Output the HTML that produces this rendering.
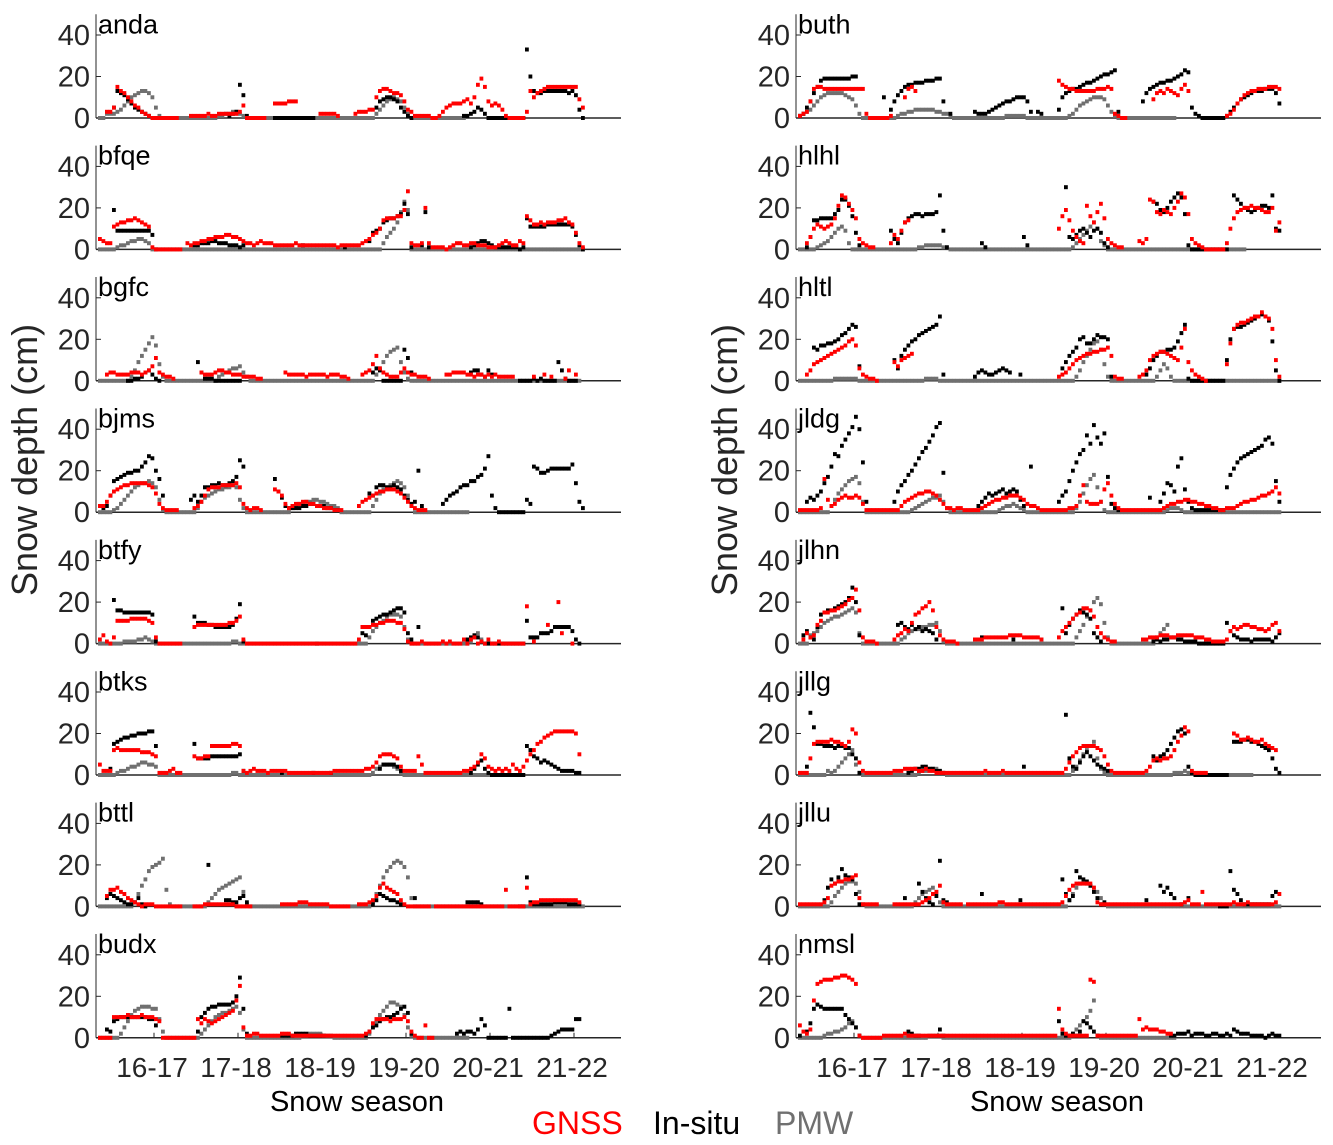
<!DOCTYPE html>
<html><head><meta charset="utf-8"><style>
html,body{margin:0;padding:0;background:#fff;}
svg{display:block;font-family:"Liberation Sans",Arial,sans-serif;}
</style></head><body>
<svg id="chart" width="1333" height="1145" viewBox="0 0 1333 1145" xmlns="http://www.w3.org/2000/svg">
<g id="axes"></g>
<g id="marks"></g>
<text x="37" y="460" font-size="36" fill="#262626" text-anchor="middle" transform="rotate(-90 37 460)">Snow depth (cm)</text>
<text x="737" y="460" font-size="36" fill="#262626" text-anchor="middle" transform="rotate(-90 737 460)">Snow depth (cm)</text>
<text x="357" y="1111" font-size="29" fill="#000" text-anchor="middle">Snow season</text>
<text x="1057" y="1111" font-size="29" fill="#000" text-anchor="middle">Snow season</text>
<text x="532" y="1134" font-size="32" fill="#ff0000">GNSS</text>
<text x="653" y="1134" font-size="32" fill="#000">In-situ</text>
<text x="775" y="1134" font-size="32" fill="#707070">PMW</text>
</svg>
<script>
// Data: each character is one ~15-day sample (cm). '.' = missing, 0-9a-z = 0..35, A-Z = 36..61
const seasons = ['16-17','17-18','18-19','19-20','20-21','21-22'];
const yTicks = [0,20,40];
const stationNames = ['anda','bfqe','bgfc','bjms','btfy','btks','bttl','budx','buth','hlhl','hltl','jldg','jlhn','jllg','jllu','nmsl'];
const gnss = [
"..335fdca86532100000000. ..1111121122222236000000 ..7777888......222221... .233344adeedccb843111110 01356777897agjf867641000 003dacdefffffffff95.....",
"5433bcddeefedcb100000000 .32334455666776654332343 332222223222222222221222 22234578aefffggjs3223k31 111012332233222111234322 43geccdcdddeefdc831.....",
"..34433334443457b43221.. .....433345544333222211. .....4333332333332333221 ...3458c643222464332221. ...33444433233232322222. ....2..3.2...15.3.......",
"3358abcddeeeeedc9421111. ...2358bcccddddec421221. ..ba842344554433222111.. ..356789aabbba97532111.. ........................ ........................",
"24103bbbbcccccba30000000 ...8999999999aabd2000000 000000000000000000000000 00288899aabbbaa710001000 001010002023010200100000 00i.1...9..k5..0........",
"5222cdccccccbbba91112311 ...98899eeeeeeffe2123222 122222111111111111122222 222233469aaa984222295111 1111111122346a8432323253 247acfgijkllllllka......",
"..5889764321011100000000 ...00011111111100000.... ....11111222111111000000 ..1112359b9876310000000. 000000000000000000008000 009122333333333332......",
"0000aaaabaaabaaa98000000 00009798789abcdip5112211 111122211111111111111111 111123799998999a83100600 ........................ ........................",
"1238effeeeeeeeeeeee20000 001...aefd.............. ........................ ..igfeeddddddeeefe2100.. .....9cdcedcbegd........ ..12479bcddeeefffe......",
"..36acbabcflqpmjf53211.. ..3759de................ ........................ ..agje9643lgdimf53211... .435onihjihknrph53210000 003afijkklkkjiik9d......",
"..3589abcdefghjkh632110. ...97abcd............... ........................ ..23468abcddeeffgc211... .235acdeedcbagp953210... ..8iprsstuvvxvupa2......",
"1111112g6346787787411111 111113567899aa9864221221 111123456677888764332111 111112238d54445be8421111 111111112344556655443322 112223455667889ac9......",
".25349bffgghijlmqg31110. ...24576aefhikg8421110.. ..22233333334444333332.. ..368acefhhgd853211..... ..2233344433444443332211 1126878998877679a6......",
"1118fgggghggfegmk6211111 111222333322322111111111 111112111121111111111111 1111369bdeeeedc952111111 11124787889cgjnl21111... ....kjhhihgghfedc.......",
"111111124abccddef411111. ...1111111123467a211111. 111111111221111111111111 111258abbbbb921111111111 111111111111112311171111 111121112111111126......",
"6324iqrsssttuutsq1000000 111111211111111111111111 111111111111111111111111 11e42111111sr11111111111 19454443322............. ........................"
];
const insitu = [
"....5dcb9754321000...... .............123gb1..... ..000000000000.......... .......589aa985310...... ........1123542000000000 00xkdccdddddddcdb40.....",
"....j999999999970....... ...223334433322212...... ..........2...........1. .....489adeffghmh1..2i1. ..........12344321111111 01fbbbbbcccccccb720.....",
"........0011245310...... ....9411100000000....... ........................ ......465000000fb4...... ..........4553253....... 00001010000951000.......",
"3238fghijjkkmorqkg8..... ..6858ccddeddefhpm...... ..ga73222233443332211... .....98cddccdcb8645k3... ..4689acddffhilr82000000 0064mljjkllllllne52.....",
"....lggffffffffe1....... ...daaa99888889cj1...... ..............0......... ...548bcdeefghhf52.8.... .........234310000000000 00b333555688888620......",
"...3fghiijjkkklle....... ...f888899999999a2...... ....1........1....1..... ........3555542......... ..........13573100000000 00ec98676543222211......",
"..465432112410.......... .......k....3322452..... ........................ ......136543321...4..... .........22221.......... 00e211111122221111......",
"..4389aaaaaaaa996....... ....3aceffgggghkte2..... ....1111222211111....... ....135689aabcefc2...... ......232332496000000e00 000000000123444499......",
"1258cfijjjjjjjjkk....... a.48bdfgghhhiiijj8.2.... ..322234567889aaa83.32.. ..4acdeefghhijkllmn3.... ..8cefghhiijklnm52100000 0013579abcdddeeec7......",
"..16eeffffhjoolg82...... ..9538dfghhghhhiq91..... ....31..........62...... ....u6579a869a831....... .....nmjiknprph200000000 000.qomkjijkllkqa9......",
"....gfhhiijkmnprq7...... ...a6cfhjkmnopqrv3...... ..24543345654..3........ ...69cegkliikmllk2...... ...36aceeffgjnr100000000 00akpqqrstuvwvtj50......",
"..5768aehmsrwzCFKEo5.... ...5adfiknqtvyBFHj...... ...357989ab9aba63.m3.... ..58afkosuBxGAxCh421.... ....7..59edamqb521111111 11ciloqrstuvwzAxf5......",
".46328efgghijkmrk4...... ....9a8797867652........ ....3........2.......2.. ...h59cegfec531......... .....1212233221111000000 00a643222122222135......",
"..4unffeeedeedda81...... .......12334433221...... ................4....... ....t84369b975432....... .....979acfilmk410000000 000.ggghhggfedc831......",
".......39dbeifed61...... ......4...b74215m32..... ....6..........3........ ...d635hedca7412........ ...3...a7964.1.4........ 000h8631111111157......",
"1.37egfeeeeeeb9751...... .......3211.....41...... ........................ ..821121387531.......... ..........11222312221122 112143222111101211......"
];
const pmw = [
"002223468abcddca51000000 000000000011223321000000 000000000000000000000000 000000024689a98520000000 000000000............... ........................",
"000001223445543000000000 000000000000000000000000 000000000000000000000000 000000000368adinj0000000 000000000000000000000000 0000000000000000000.....",
"000000000259cfilh8200000 000000000023456674200000 000000000000000000000000 0000000369cefg9410000000 000000000000000000000000 000000000000000000......",
"000012468acdeefec6100000 000025789abbccdc62000000 000000023445566554332000 000000369bcdefec84000000 0000000000.............. ........................",
"000000011112232100000000 000000000000001100000000 000000000000000000000000 00000368abdeeed820000000 00000000001352.......... ........................",
"00000122344566554 0000000 000000000000001100000000 000000000000000000000000 000000134555431000000000 0000000000000000........ ........................",
"000000000026adhjkln81000 000000024689abcde7100000 000000000000000000000000 00000026aehjlmlje4000000 000000000000000000000000 0000000000000000000.....",
"000000258bdefffee9300000 000002468abccdefc4000000 000000000011222211100000 00000258bdfhhgfb51000000 0000000000.............. ........................",
"123468abcccccba962000000 000012233444444332210000 000000000001111110000000 000001246789aaa963100000 000000000000............ ........................",
"00000123468ab93000000000 000000000011222221100000 000000000000000000000000 00000013579bda4200000000 000000000000000000000000 00000000................",
"000000000011111110000000 000000000000111100000000 000000000000000000000000 0000000259cfijf820000000 000000258620000000000000 000000000000000000......",
"000000000369bdfghe500000 000000001234567785200000 000000000123343210000000 0000000259dgic5100000000 000000000122210000000000 000000000000000000......",
"0004568abcddefghf5000000 000002356778899a61000000 000000000000000000000000 0000000369dgkmja30000000 0000003579.............. ........................",
"00000000212468ac51000000 000000000012233321000000 000000000000000000000000 000000247aceg83100000000 000000000001112110000000 0000000000..............",
"0000000002579bccb7100000 00000000024678972 0000000 000000000000000000000000 00000369bcba974100000000 000000000000000000000000 000000000000000000......",
"000000012233457851000000 000000000000011110000000 000000000000000000000000 0000002468adi10000000000 000000000000............ ........................"
];

const NS='http://www.w3.org/2000/svg';
const axesG=document.getElementById('axes');
const marksG=document.getElementById('marks');
function mk(tag,attrs,parent){const e=document.createElementNS(NS,tag);for(const k in attrs)e.setAttribute(k,attrs[k]);parent.appendChild(e);return e;}
function decode(s){
  const out=[];const t=s.replace(/\s+/g,'');
  for(const c of t){
    if(c==='.')out.push(null);
    else if(c>='A'&&c<='Z')out.push(36+c.charCodeAt(0)-65);
    else out.push(parseInt(c,36));
  }
  return out;
}
const AXW=525, PXCM=2.075, ROWSTEP=131.4;
function xScale(col,k){return (col?796:96)+2+k*3.5;}
function yScale(row,v){return 118+row*ROWSTEP - v*PXCM;}

stationNames.forEach((name,i)=>{
  const col=i<8?0:1,row=i%8;
  const x0=col?796:96, base=yScale(row,0);
  const g=mk('g',{},axesG);
  
  
  const ya=mk('line',{x1:x0,y1:base,x2:x0,y2:yScale(row,50),stroke:'#262626','stroke-width':1},g);
  
  
  const xa=mk('line',{x1:x0,y1:base,x2:x0+AXW,y2:base,stroke:'#262626','stroke-width':1.5},g);
  
  
  yTicks.forEach(t=>{
    const y=yScale(row,t);
    mk('line',{x1:x0,y1:y,x2:x0+5,y2:y,stroke:'#262626','stroke-width':1},g);
    const tl=mk('text',{x:x0-6,y:y+10,'font-size':29,fill:'#262626','text-anchor':'end'},g);
    tl.textContent=t;
    
    
  });
  const lb=mk('text',{x:x0+2,y:yScale(row,50)+19,'font-size':27,fill:'#000'},g);
  lb.textContent=name;
  
  
  if(row===7){
    seasons.forEach((s,j)=>{
      const xc=xScale(col,16+24*j);
      mk('line',{x1:xc,y1:base,x2:xc,y2:base-5,stroke:'#262626','stroke-width':1},g);
      const st=mk('text',{x:xc-2,y:base+39,'font-size':28,fill:'#262626','text-anchor':'middle'},g);
      st.textContent=s;
      
      
    });
  }
  [[pmw[i],'#707070','pmw'],[insitu[i],'#000000','in-situ'],[gnss[i],'#ff0000','gnss']].forEach(([str,color,key])=>{
    const sg=mk('g',{fill:color},marksG);
    
    
    decode(str).forEach((v,k)=>{
      if(v===null)return;
      const r=mk('rect',{x:xScale(col,k).toFixed(1),y:(yScale(row,v)-2).toFixed(1),width:3.8,height:4},sg);
      
      
    });
  });
});
</script>
</body></html>
